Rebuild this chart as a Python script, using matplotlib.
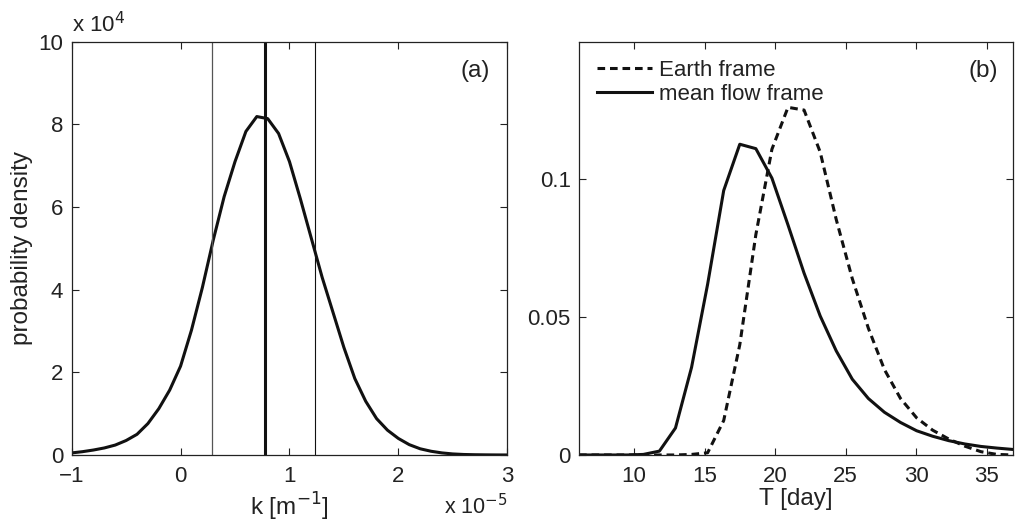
import numpy as np
import matplotlib.pyplot as plt

plt.rcParams['font.family'] = ['Liberation Sans', 'DejaVu Sans']
plt.rcParams['font.size'] = 16
plt.rcParams['lines.scale_dashes'] = False

# panel (a): wavenumber pdf (k in 1e-5 m^-1, density in 1e4)
k = [-1.0, -0.9, -0.8, -0.7, -0.6, -0.5, -0.4, -0.3, -0.2, -0.1,
     0.0, 0.1, 0.2, 0.3, 0.4, 0.5, 0.6, 0.7, 0.8, 0.9,
     1.0, 1.1, 1.2, 1.3, 1.4, 1.5, 1.6, 1.7, 1.8, 1.9,
     2.0, 2.1, 2.2, 2.3, 2.4, 2.5, 2.6, 2.7, 2.8, 2.9, 3.0]
pdf_k = [0.05, 0.08, 0.12, 0.17, 0.24, 0.35, 0.50, 0.76, 1.12, 1.57,
         2.15, 3.02, 4.05, 5.20, 6.25, 7.10, 7.83, 8.19, 8.14, 7.78,
         7.10, 6.20, 5.25, 4.30, 3.45, 2.60, 1.85, 1.30, 0.88, 0.60,
         0.40, 0.25, 0.15, 0.09, 0.05, 0.025, 0.012, 0.006, 0.003, 0.001, 0.0]
k_mean = 0.775
k_lo = 0.29
k_hi = 1.234

# panel (b): period pdf
T = [6.10, 7.24, 8.38, 9.52, 10.66, 11.80, 12.94, 14.08, 15.22, 16.36,
     17.50, 18.64, 19.78, 20.92, 22.06, 23.20, 24.34, 25.48, 26.62, 27.76,
     28.90, 30.04, 31.18, 32.32, 33.46, 34.60, 35.74, 36.88]
earth = [0, 0, 0, 0, 0, 0, 0, 0.0002, 0.0008, 0.0125,
         0.040, 0.080, 0.111, 0.1262, 0.1252, 0.110, 0.0855, 0.064, 0.046, 0.031,
         0.0205, 0.0135, 0.0090, 0.0058, 0.0032, 0.0012, 0.0002, 0.0]
meanflow = [0, 0, 0, 0, 0.0002, 0.0014, 0.0098, 0.0318, 0.062, 0.096,
            0.1128, 0.1112, 0.1005, 0.0835, 0.066, 0.0505, 0.0378, 0.0275, 0.0205, 0.0155,
            0.0118, 0.0088, 0.0068, 0.0052, 0.0040, 0.0031, 0.0025, 0.0020]

fig = plt.figure(figsize=(10.18, 5.22), dpi=100)
ax1 = fig.add_axes([0.0704, 0.1284, 0.4279, 0.7916])
ax2 = fig.add_axes([0.5688, 0.1284, 0.4266, 0.7916])

for ax in (ax1, ax2):
    ax.tick_params(direction='in', top=True, right=True, length=5, width=0.8,
                   labelsize=16, colors='#222222')
    ax.tick_params(axis='x', pad=8)
    ax.tick_params(axis='y', pad=6)
    for s in ax.spines.values():
        s.set_linewidth(0.9)
        s.set_color('#222222')

# (a)
ax1.plot(k, pdf_k, color='#111111', lw=2.2)
ax1.axvline(k_mean, color='#111111', lw=2.2)
ax1.axvline(k_lo, color='#555555', lw=0.9)
ax1.axvline(k_hi, color='#111111', lw=0.8)
ax1.set_xlim(-1, 3)
ax1.set_ylim(0, 10)
ax1.set_xticks([-1, 0, 1, 2, 3])
ax1.set_yticks([0, 2, 4, 6, 8, 10])
ax1.set_ylabel('probability density', fontsize=17.5, color='#222222', labelpad=4)
ax1.set_xlabel('k [m$^{-1}$]', fontsize=17.5, color='#222222', labelpad=3)
ax1.text(0.0, 1.012, 'x 10$^{4}$', transform=ax1.transAxes, fontsize=16,
         color='#222222', ha='left', va='bottom')
ax1.text(1.0, -0.095, 'x 10$^{-5}$', transform=ax1.transAxes, fontsize=15.5,
         color='#222222', ha='right', va='top')
ax1.text(0.96, 0.93, '(a)', transform=ax1.transAxes, fontsize=17.5,
         color='#222222', ha='right', va='center')

# (b)
ax2.plot(T, earth, color='#111111', lw=2.2, dashes=(5.5, 3.5), label='Earth frame')
ax2.plot(T, meanflow, color='#111111', lw=2.2, label='mean flow frame')
ax2.set_xlim(6.1, 36.9)
ax2.set_ylim(0, 0.15)
ax2.set_xticks([10, 15, 20, 25, 30, 35])
ax2.set_yticks([0, 0.05, 0.1])
ax2.set_yticklabels(['0', '0.05', '0.1'])
ax2.set_xlabel('T [day]', fontsize=17.5, color='#222222', labelpad=1)
ax2.text(0.965, 0.93, '(b)', transform=ax2.transAxes, fontsize=17.5,
         color='#222222', ha='right', va='center')
ax2.legend(loc='upper left', frameon=False, fontsize=16, handlelength=2.5,
           handletextpad=0.3, labelspacing=0.15, borderaxespad=0.4,
           labelcolor='#222222')

fig.savefig('out.png', dpi=100)
